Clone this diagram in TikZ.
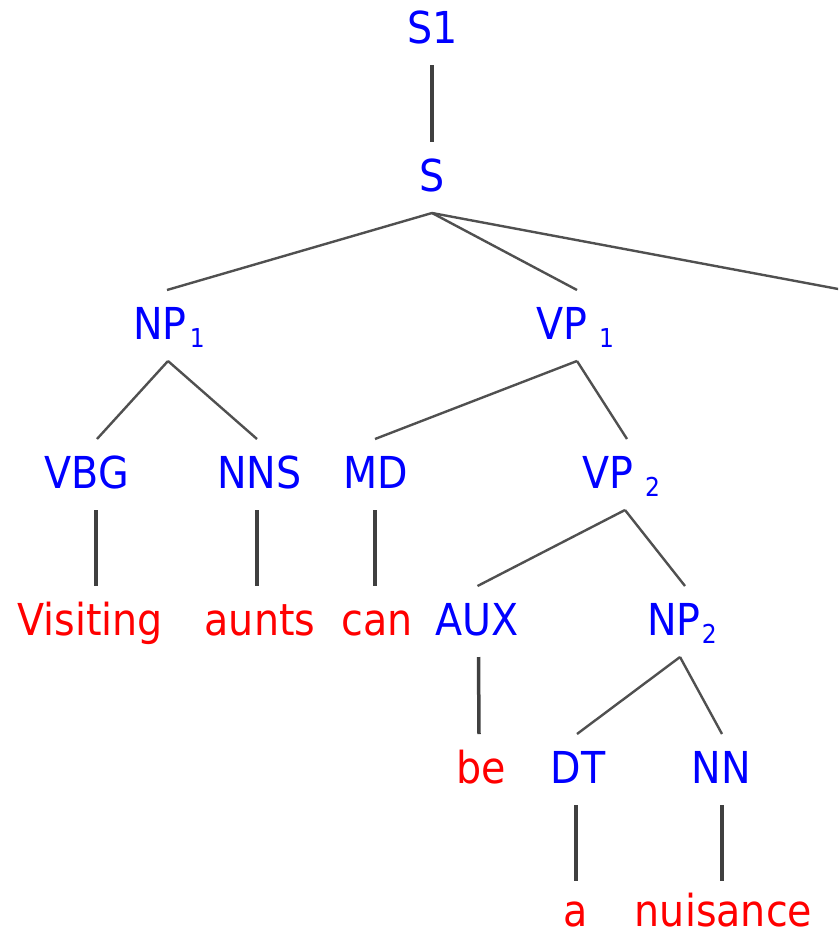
\documentclass[tikz,border=0pt]{standalone}
\usepackage{fontspec}
\setmainfont{DejaVu Sans}[FakeStretch=0.9]
\definecolor{catblue}{RGB}{0,0,255}
\definecolor{wordred}{RGB}{255,0,0}
\definecolor{edgegray}{RGB}{80,80,80}
\definecolor{vertgray}{RGB}{64,64,64}
\newcommand\subsc[1]{\raisebox{-8pt}[0pt][0pt]{\fontsize{26}{26}\selectfont #1}}
\tikzset{
 treenode/.style={anchor=base, inner sep=0pt, outer sep=0pt, text height=49pt, text depth=22pt, font=\fontsize{44}{50}\selectfont},
 cat/.style={treenode, text=catblue},
 word/.style={treenode, text=wordred},
 leafword/.style={word, text height=45pt, text depth=0pt},
 branch/.style={draw=edgegray, line width=2.4pt},
 stem/.style={draw=vertgray, line width=3.5pt},
}
\begin{document}
\begin{tikzpicture}[x=1pt,y=-1pt]
\useasboundingbox (0,0) rectangle (838,937);
\clip (0,0) rectangle (838,937);
% categories
\node[cat] (S1) at (433,43) {S1};
\node[cat] (S) at (432,191) {S};
\node[cat] (NP1) at (169,339) {NP\hspace{3pt}\subsc{1}};
\node[cat] (VP1) at (575,339) {VP\hspace{12pt}\subsc{1}};
\node[cat] (VBG) at (87,488) {VBG};
\node[cat] (NNS) at (259.5,488) {NNS};
\node[cat] (MD) at (376,488) {MD};
\node[cat] (VP2) at (621,488) {VP\hspace{12pt}\subsc{2}};
\node[cat] (AUX) at (477.5,635) {AUX};
\node[cat] (NP2) at (682,635) {NP\hspace{1pt}\subsc{2}};
\node[cat] (DT) at (578,783) {DT};
\node[cat] (NN) at (721,783) {NN};
% words
\node[word] (Visiting) at (90,635) {Visiting};
\node[word] (aunts) at (260,635) {aunts};
\node[word] (can) at (377.5,635) {can};
\node[word] (be) at (481,783) {be};
\node[leafword] (a) at (576,926) {a};
\node[leafword] (nuisance) at (723.5,926) {nuisance};
\coordinate (R) at (850,291.2);
% edges
\draw[stem] ([xshift=-1pt]S1.south) -- (S.north);
\draw[branch] (S.south) -- ([xshift=-2pt]NP1.north);
\draw[branch] (S.south) -- ([xshift=2pt]VP1.north);
\draw[branch] (S.south) -- (R);
\draw[branch] ([xshift=-1pt]NP1.south) -- ([xshift=10pt]VBG.north);
\draw[branch] ([xshift=-1pt]NP1.south) -- ([xshift=-2.5pt]NNS.north);
\draw[branch] ([xshift=2pt]VP1.south) -- ([xshift=-1pt]MD.north);
\draw[branch] ([xshift=2pt]VP1.south) -- ([xshift=6pt]VP2.north);
\draw[stem] ([xshift=9pt]VBG.south) -- ([xshift=6pt]Visiting.north);
\draw[stem] ([xshift=-2.5pt]NNS.south) -- ([xshift=-3pt]aunts.north);
\draw[stem] ([xshift=-1pt]MD.south) -- ([xshift=-2.5pt]can.north);
\draw[branch] ([xshift=4pt]VP2.south) -- (AUX.north);
\draw[branch] ([xshift=4pt]VP2.south) -- ([xshift=3pt]NP2.north);
\draw[stem] ([xshift=1pt]AUX.south) -- ([xshift=-2pt]be.north);
\draw[branch] ([xshift=-2pt]NP2.south) -- ([xshift=-1pt]DT.north);
\draw[branch] ([xshift=-2pt]NP2.south) -- ([xshift=1pt]NN.north);
\draw[stem] ([xshift=-2pt]DT.south) -- (a.north);
\draw[stem] ([xshift=1pt]NN.south) -- ([xshift=-1.5pt]nuisance.north);
\end{tikzpicture}
\end{document}
